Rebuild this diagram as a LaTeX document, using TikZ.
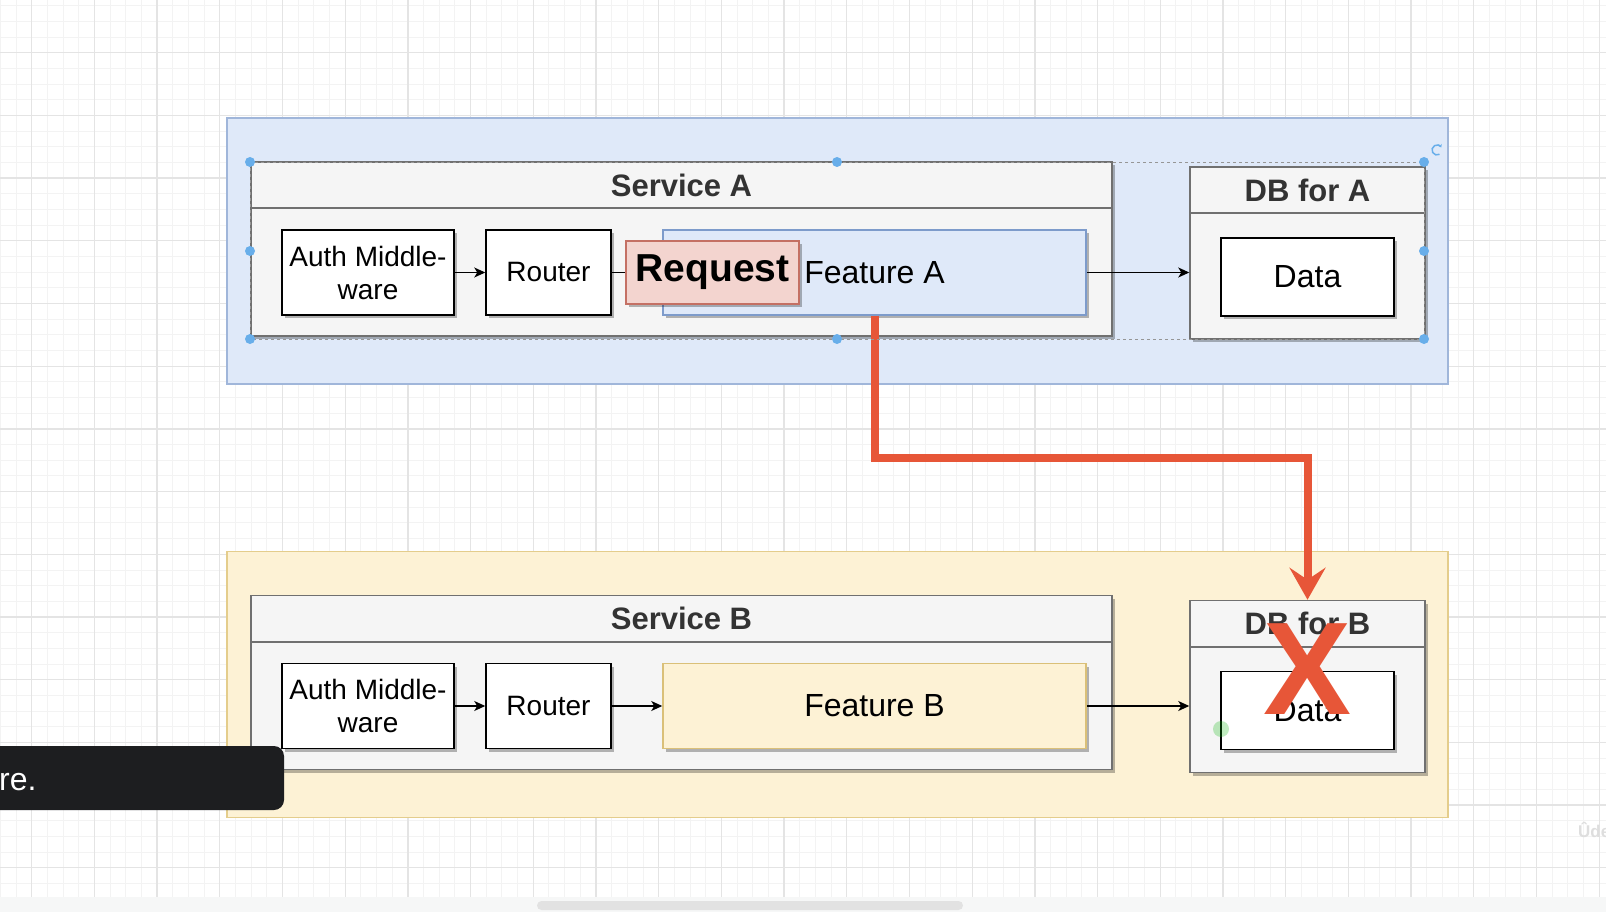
\documentclass[tikz,border=0pt]{standalone}
\usepackage{fontspec}
\setmainfont{Liberation Sans}
\usetikzlibrary{arrows.meta, positioning, calc, shadows}
\definecolor{cBlueFill}{RGB}{223,233,249}
\definecolor{cBlueEdge}{RGB}{160,182,218}
\definecolor{cFeatEdgeA}{RGB}{125,155,203}
\definecolor{cYellowFill}{RGB}{253,242,213}
\definecolor{cYellowEdge}{RGB}{228,205,140}
\definecolor{cFeatEdgeB}{RGB}{218,192,120}
\definecolor{cLaneFill}{RGB}{245,245,245}
\definecolor{cLaneEdge}{RGB}{112,112,112}
\definecolor{cTitle}{RGB}{51,51,51}
\definecolor{cReqFill}{RGB}{243,212,207}
\definecolor{cReqEdge}{RGB}{196,112,100}
\definecolor{cRed}{RGB}{231,86,56}
\definecolor{cHandle}{RGB}{104,174,234}
\definecolor{cSel}{RGB}{150,150,150}
\definecolor{cGridFine}{RGB}{243,243,243}
\definecolor{cGridBold}{RGB}{228,228,228}
\definecolor{cTip}{RGB}{29,30,32}
\definecolor{cStrip}{RGB}{246,247,247}
\definecolor{cScroll}{RGB}{226,226,226}
\tikzset{
	softshadow/.style={drop shadow={shadow xshift=3pt, shadow yshift=-3pt, fill=black, opacity=0.28}},
	zone/.style     ={rectangle, line width=1.2pt, minimum width=1221pt, minimum height=266pt, inner sep=0pt},
	lane/.style     ={rectangle, draw=cLaneEdge, line width=1.5pt, fill=cLaneFill, softshadow, inner sep=0pt},
	laneline/.style ={cLaneEdge, line width=1.5pt},
	lanetitle/.style={text=cTitle, font=\fontsize{31}{37}\selectfont\bfseries, inner sep=0pt},
	inbox/.style    ={rectangle, draw=black, line width=1.5pt, fill=white, softshadow, minimum height=85pt, align=center, inner sep=1pt, font=\fontsize{28}{33}\selectfont},
	featbox/.style  ={rectangle, line width=1.5pt, softshadow, minimum width=423pt, minimum height=85pt, inner sep=0pt, font=\fontsize{32}{38}\selectfont},
	databox/.style  ={rectangle, draw=black, line width=1.5pt, fill=white, softshadow, minimum width=173pt, minimum height=78pt, font=\fontsize{32}{38}\selectfont},
	reqbox/.style   ={rectangle, draw=cReqEdge, line width=1.5pt, fill=cReqFill, softshadow, minimum width=173pt, minimum height=63pt, inner sep=0pt, font=\fontsize{39}{46}\selectfont\bfseries},
	flow/.style     ={-{Stealth[length=11pt, width=10pt, inset=3pt]}, line width=1.3pt},
	hotflow/.style  ={-{Stealth[length=32pt, width=36pt, inset=12pt]}, line width=8pt, cRed},
	gridfine/.style ={cGridFine, line width=1pt},
	gridbold/.style ={cGridBold, line width=1.3pt},
}

\begin{document}
\begin{tikzpicture}[x=1pt, y=-1pt]
	\useasboundingbox (0,0) rectangle (1606,912);
	\clip (0,0) rectangle (1606,912);
	\fill[white] (0,0) rectangle (1606,912);
	% canvas grid
	\foreach \i in {0,...,102} \draw[gridfine] ({0.35+15.675*\i},0) -- ++(0,912);
	\foreach \i in {0,...,58} \draw[gridfine] (0,{5.7+15.675*\i}) -- ++(1606,0);
	\foreach \i in {0,...,25} \draw[gridbold] ({31.7+62.7*\i},0) -- ++(0,912);
	\foreach \i in {0,...,15} \draw[gridbold] (0,{-10+62.7*\i}) -- ++(1606,0);

	% one row per service
	\foreach \s/\dy/\zf/\ze/\fe in {A/0/cBlueFill/cBlueEdge/cFeatEdgeA, B/433.5/cYellowFill/cYellowEdge/cFeatEdgeB} {
		\node[zone, fill=\zf, draw=\ze] (zone\s) at (837.5,{251+\dy}) {};
		\node[lane, minimum width=861pt, minimum height=174pt] (svc\s) at (681.5,{249+\dy}) {};
		\draw[laneline] ($(svc\s.north west)+(0,47)$) -- ($(svc\s.north east)+(0,47)$);
		\node[lanetitle] (svcT\s) at ($(svc\s.north)+(0,24)$) {Service \s};
		\node[lane, minimum width=235pt, minimum height=172pt] (db\s) at (1307.5,{253+\dy}) {};
		\draw[laneline] ($(db\s.north west)+(0,47)$) -- ($(db\s.north east)+(0,47)$);
		\node[lanetitle] (dbT\s) at ($(db\s.north)+(0,24)$) {DB for \s};
		\node[inbox, minimum width=172pt] (auth\s) at (368,{272.5+\dy}) {Auth Middle-\\ware};
		\node[inbox, minimum width=125pt] (router\s) at (548.5,{272.5+\dy}) {Router};
		\node[featbox, fill=\zf, draw=\fe] (feat\s) at (874.5,{272.5+\dy}) {Feature \s};
		\node[databox] (data\s) at (1307.5,{277+\dy}) {Data};
		\draw[flow] (auth\s) -- (router\s);
		\draw[flow] (router\s) -- (feat\s);
		\draw[flow] (feat\s.east) -- (feat\s.east -| db\s.west);
	}
	\node[reqbox] (request) at (712.5,272.5) {Request};

	% the forbidden call
	\coordinate (bend) at (874.5,458);
	\draw[hotflow] (featA.south) -- (featA.south |- bend) -| (dbB.north);
	\node[text=cRed, font=\fontsize{132}{132}\selectfont\bfseries, inner sep=0pt] (cross) at (1307.5,669) {X};

	% editor overlays
	\draw[cSel, dashed, line width=0.8pt] (250,162) rectangle (1424,339);
	\foreach \hx/\hy in {250/162, 837/162, 1424/162, 250/251, 1424/251, 250/339, 837/339, 1424/339}
		\fill[cHandle] (\hx,\hy) circle (5);
	\draw[cHandle, line width=1.5pt, -{Stealth[length=3pt, width=4pt]}] (1437,150) ++(60:5) arc[start angle=60, end angle=330, radius=5];
	\fill[green!70!black, opacity=0.25] (1221,729) circle (8);
	\node[fill=cTip, rounded corners=10pt, minimum width=304pt, minimum height=64pt, inner sep=0pt] (tipbox) at (132,778) {};
	\node[text=white, font=\fontsize{32}{38}\selectfont, anchor=base west, inner sep=0pt] (tiptext) at (-1,790) {re.};
	\fill[cStrip] (0,897) rectangle (1606,912);
	\fill[cScroll, rounded corners=4.5pt] (537,901) rectangle (963,910);
	\node[text=black!13, font=\fontsize{17}{17}\selectfont\bfseries, anchor=west, inner sep=0pt] (mark) at (1578,830) {Ûde};
\end{tikzpicture}
\end{document}
